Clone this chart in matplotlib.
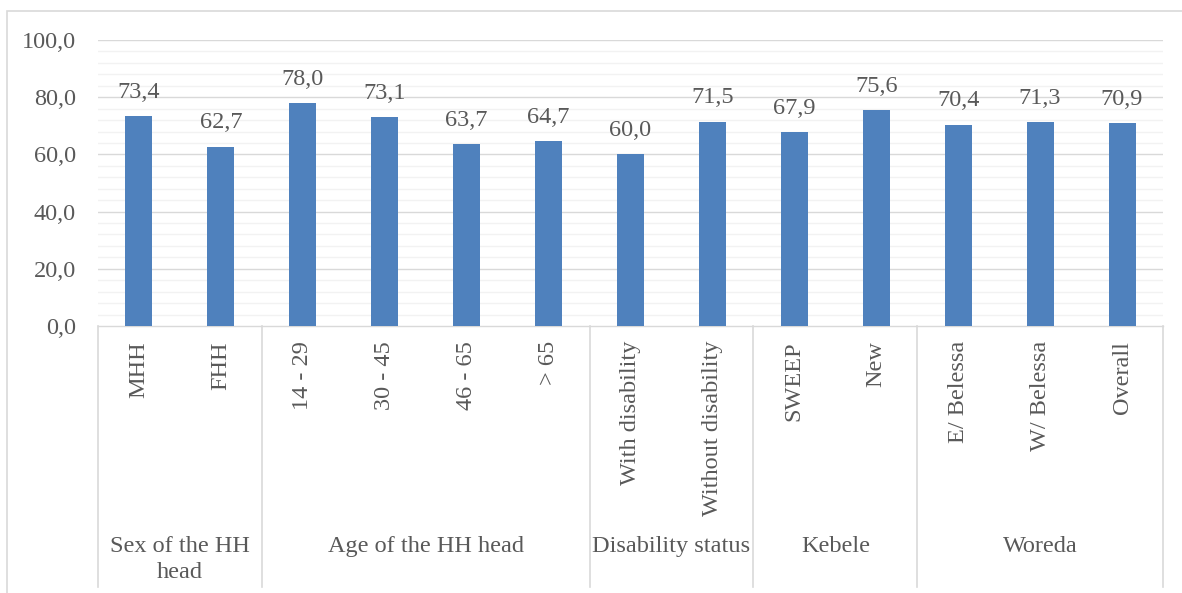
import matplotlib.pyplot as plt
import numpy as np
from matplotlib.patches import Rectangle

# * data
categories = ['MHH', 'FHH', '14 - 29', '30 - 45', '46 - 65', '> 65',
              'With disability', 'Without disability', 'SWEEP', 'New',
              'E/ Belessa', 'W/ Belessa', 'Overall']
values = [73.4, 62.7, 78.0, 73.1, 63.7, 64.7, 60.0, 71.5, 67.9, 75.6,
          70.4, 71.3, 70.9]
groups = ['Sex of the HH\nhead', 'Age of the HH head', 'Disability status',
          'Kebele', 'Woreda']
group_sizes = [2, 4, 2, 2, 3]
y_ticks = [0, 20, 40, 60, 80, 100]

# * style
W, H = 1182, 593
bar_color = '#4F81BD'
text_color = '#595959'
grid_major = '#D9D9D9'
grid_minor = '#F2F2F2'
font_family = 'Liberation Serif'
font_size = 17.5

fig = plt.figure(figsize=(W / 100, H / 100), dpi=100)

# axes area in pixels
ax_left, ax_right, ax_top, ax_bottom = 98, 1163, 40, 326
ax = fig.add_axes([ax_left / W, 1 - ax_bottom / H,
                   (ax_right - ax_left) / W, (ax_bottom - ax_top) / H])
px = ax_bottom - ax_top  # axes height in px, for axes-fraction offsets

x = np.arange(len(categories))
ax.bar(x, values, width=0.33, color=bar_color, zorder=3)
ax.set_xlim(-0.5, len(categories) - 0.5)
ax.set_ylim(0, 100)

# gridlines
for yv in np.arange(0, 101, 4):
    if yv % 20:
        ax.axhline(yv, color=grid_minor, lw=1.0, zorder=1)
for yv in y_ticks[1:]:
    ax.axhline(yv, color=grid_major, lw=1.0, zorder=2)

for s in ['top', 'right', 'left']:
    ax.spines[s].set_visible(False)
ax.spines['bottom'].set_color(grid_major)
ax.spines['bottom'].set_linewidth(1.0)

ax.set_yticks(y_ticks)
ax.set_yticklabels([f'{v:.1f}'.replace('.', ',') for v in y_ticks],
                   fontfamily=font_family, fontsize=font_size, color=text_color)
ax.tick_params(axis='y', length=0, pad=16)
ax.set_xticks([])

# value labels
for xi, v in zip(x, values):
    ax.annotate(f'{v:.1f}'.replace('.', ','), (xi, v), xytext=(0, 9.5),
                textcoords='offset points', ha='center', va='bottom',
                fontfamily=font_family, fontsize=font_size, color=text_color)

# category labels (rotated)
tr = ax.get_xaxis_transform()
for xi, lab in zip(x, categories):
    ax.text(xi, -15 / px, lab, rotation=90, ha='center', va='top',
            transform=tr, fontfamily=font_family, fontsize=font_size,
            color=text_color)

# group separators and labels
bounds = np.concatenate([[0], np.cumsum(group_sizes)]) - 0.5
for b in bounds:
    ax.plot([b, b], [0, -(587 - ax_bottom) / px], color=grid_major, lw=1.2,
            transform=tr, clip_on=False)
for g, a, b in zip(groups, bounds[:-1], bounds[1:]):
    ax.text((a + b) / 2, -(536 - ax_bottom) / px, g, ha='center', va='top',
            transform=tr, fontfamily=font_family, fontsize=font_size,
            color=text_color, linespacing=1.3)

# outer chart border
fig.patches.append(Rectangle((7 / W, -0.1), 1.2, 1 - 11 / H + 0.1,
                             transform=fig.transFigure, fill=False,
                             edgecolor=grid_major, lw=1.2))

plt.savefig('out.png', dpi=100)
